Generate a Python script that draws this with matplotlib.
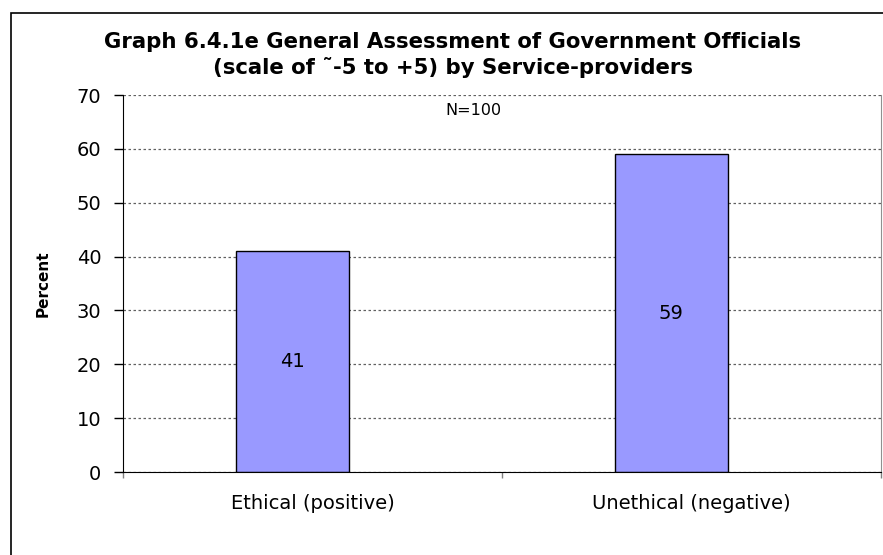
import matplotlib
matplotlib.use("Agg")
import matplotlib.pyplot as plt
from matplotlib.patches import Rectangle
import numpy as np

plt.rcParams['font.family'] = ['DejaVu Sans']

# Data
categories = ['Ethical (positive)', 'Unethical (negative)']
percent = [41, 59]

fig = plt.figure(figsize=(8.83, 5.55), dpi=100)
ax = fig.add_axes([123 / 883, 1 - 472 / 555, 758 / 883, 377 / 555])

# chart border (left and top edges visible)
fig.patches.append(Rectangle((11 / 883, -0.1), 1.2, 1.1 - 13 / 555,
                             transform=fig.transFigure, fill=False,
                             edgecolor='black', linewidth=1.2))

x = np.arange(len(categories))
bar_shift = -0.053
ax.bar(x + bar_shift, percent, width=0.298, color='#9999FF',
       edgecolor='black', linewidth=1.0, zorder=3)

for xi, v in zip(x, percent):
    ax.text(xi + bar_shift, v / 2, str(v), ha='center', va='center',
            fontsize=14, zorder=4)

ax.set_xlim(-0.5, 1.5)
ax.set_ylim(0, 70)
ax.set_yticks(range(0, 71, 10))
ax.set_xticks(x)
ax.set_xticklabels(categories, fontsize=14)
ax.set_xticks([-0.5, 0.5, 1.5], minor=True)
ax.tick_params(axis='x', which='major', length=0, pad=16)
ax.tick_params(axis='x', which='minor', length=4.5, width=1, color='#808080')
ax.tick_params(axis='y', labelsize=14, length=6.5, width=1, pad=9)

ax.grid(axis='y', linestyle=(0, (2, 2)), color='#606060', linewidth=0.9, zorder=1)
ax.spines['left'].set_color('black')
ax.spines['bottom'].set_color('black')
ax.spines['bottom'].set_zorder(5)
ax.spines['top'].set_visible(False)
ax.spines['right'].set_color('#909090')

ax.set_ylabel('Percent', fontsize=11, fontweight='bold')
ax.yaxis.set_label_coords(-0.096, 0.5)

fig.text(453 / 883, 1 - 55 / 555,
         'Graph 6.4.1e General Assessment of Government Officials\n'
         '(scale of \u02dc-5 to +5) by Service-providers',
         ha='center', va='center', fontsize=15.3, fontweight='bold',
         linespacing=1.35)

ax.text(0.462, 0.96, 'N=100', fontsize=11.5, ha='center', va='center',
        transform=ax.transAxes)

fig.savefig('out.png', dpi=100)
